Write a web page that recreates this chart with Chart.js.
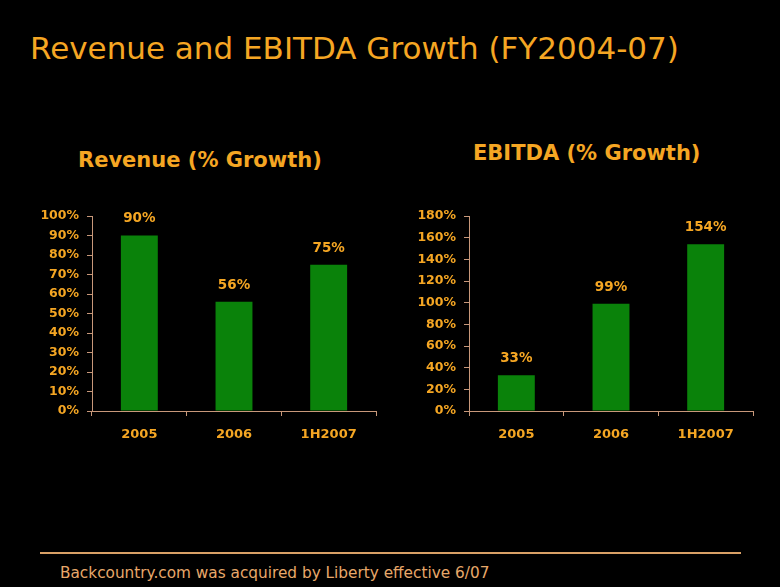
<!DOCTYPE html>
<html>
<head>
<meta charset="utf-8">
<script src="https://cdn.jsdelivr.net/npm/chart.js@4"></script>
<style>
  body { margin: 0; background: #000; width: 780px; height: 587px; overflow: hidden; position: relative;
         font-family: "DejaVu Sans", sans-serif; }
  .title { position: absolute; left: 30px; top: 30px; color: #F5A623; font-size: 31px; white-space: nowrap; }
  .sub { position: absolute; color: #F5A623; font-size: 21px; font-weight: bold; white-space: nowrap; }
  .box { position: absolute; top: 190px; width: 390px; height: 270px; }
  .rule { position: absolute; left: 40px; top: 552px; width: 701px; height: 2px; background: #D9A066; }
  .foot { position: absolute; left: 60px; top: 564px; color: #E8A86A; font-size: 15.3px; white-space: nowrap; }
</style>
</head>
<body>
<div class="title">Revenue and EBITDA Growth (FY2004-07)</div>
<div class="sub" style="left:78px; top:148px;">Revenue (% Growth)</div>
<div class="sub" style="left:473px; top:141px;">EBITDA (% Growth)</div>
<div class="box" style="left:0px;"><canvas id="rev"></canvas></div>
<div class="box" style="left:390px;"><canvas id="ebitda"></canvas></div>
<div class="rule"></div>
<div class="foot">Backcountry.com was acquired by Liberty effective 6/07</div>
<script>
// Data
const categories = ['2005', '2006', '1H2007'];
const revenueGrowth = [90, 56, 75];
const ebitdaGrowth = [33, 99, 154];

const orange = '#F5A623';
const axisColor = '#C8987A';
const barColor = '#0A820A';
const fontFamily = '"DejaVu Sans", sans-serif';

// value labels above the bars
const barLabels = {
    id: 'barLabels',
    afterDatasetsDraw(chart) {
        const ctx = chart.ctx;
        const meta = chart.getDatasetMeta(0);
        ctx.save();
        ctx.fillStyle = orange;
        ctx.font = 'bold 13.5px ' + fontFamily;
        ctx.textAlign = 'center';
        ctx.textBaseline = 'bottom';
        meta.data.forEach((bar, i) => {
            ctx.fillText(chart.data.datasets[0].data[i] + '%', bar.x, bar.y - 10);
        });
        ctx.restore();
    }
};

function makeChart(id, values, max, step, yWidth, padRight) {
    const ctx = document.getElementById(id).getContext('2d');
    return new Chart(ctx, {
        type: 'bar',
        data: {
            labels: categories,
            datasets: [{
                data: values,
                backgroundColor: barColor,
                barPercentage: 0.39,
                categoryPercentage: 1
            }]
        },
        options: {
            responsive: true,
            maintainAspectRatio: false,
            animation: false,
            layout: { padding: { top: 26, right: padRight, left: 0, bottom: 0 } },
            plugins: {
                legend: { display: false },
                tooltip: { enabled: false }
            },
            scales: {
                x: {
                    afterFit: s => { s.height = 49; },
                    grid: { display: true, drawOnChartArea: false, drawTicks: true, tickLength: 5, color: axisColor, offset: true },
                    border: { color: axisColor, width: 1 },
                    ticks: { color: orange, padding: 11, font: { family: fontFamily, size: 13, weight: 'bold' } }
                },
                y: {
                    min: 0,
                    max: max,
                    afterFit: s => { s.width = yWidth; },
                    grid: { display: true, drawOnChartArea: false, drawTicks: true, tickLength: 5, color: axisColor },
                    border: { color: axisColor, width: 1 },
                    ticks: {
                        stepSize: step,
                        color: orange,
                        padding: 8,
                        font: { family: fontFamily, size: 12.5, weight: 'bold' },
                        callback: v => v + '%'
                    }
                }
            }
        },
        plugins: [barLabels]
    });
}

makeChart('rev', revenueGrowth, 100, 10, 92, 14);
makeChart('ebitda', ebitdaGrowth, 180, 20, 79, 27);
</script>
</body>
</html>
